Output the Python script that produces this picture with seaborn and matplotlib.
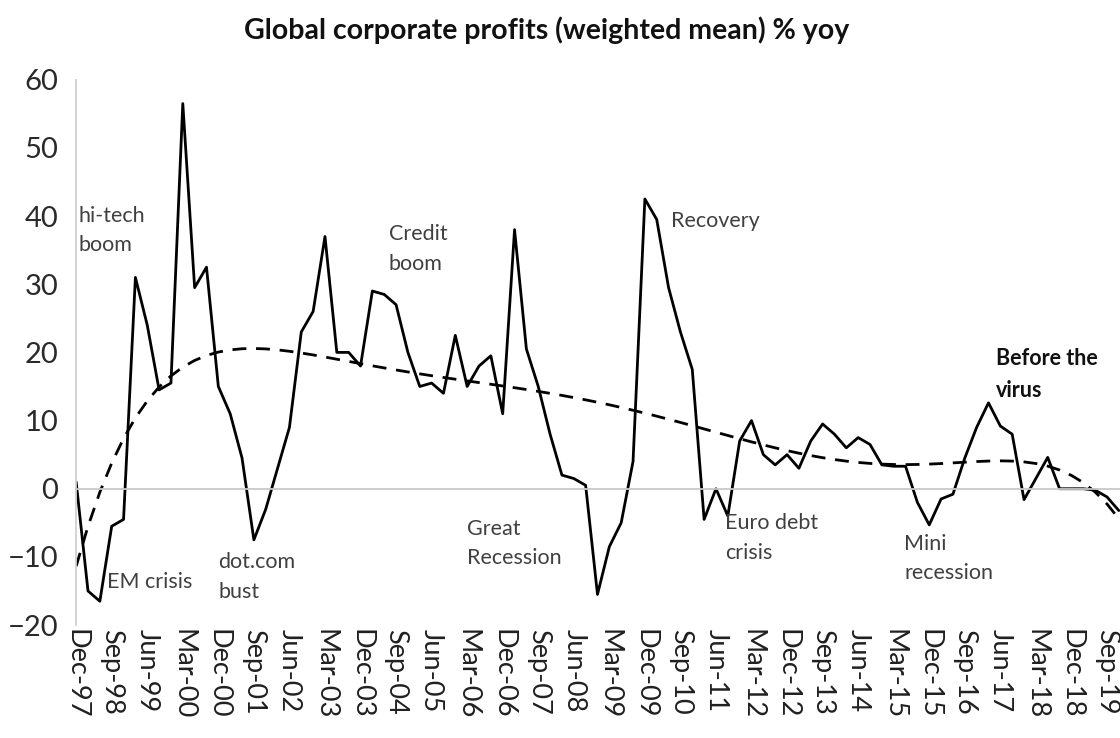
import numpy as np
import pandas as pd
import seaborn as sns
import matplotlib.pyplot as plt

# quarterly profit growth, % yoy, Dec-97 .. Dec-19
profits = [1, -15, -16.5, -5.5, -4.5, 31, 24, 14.5, 15.5, 56.5,
           29.5, 32.5, 15, 11, 4.5, -7.5, -3, 3, 9, 23,
           26, 37, 20, 20, 18, 29, 28.5, 27, 20, 15,
           15.5, 14, 22.5, 15, 18, 19.5, 11, 38, 20.5, 15,
           8, 2, 1.5, 0.5, -15.5, -8.5, -5, 4, 42.5, 39.5,
           29.5, 23, 17.5, -4.5, 0, -4, 7, 10, 5, 3.5,
           5, 3, 7, 9.5, 8, 6, 7.5, 6.5, 3.5, 3.3,
           3.3, -2, -5.3, -1.5, -0.8, 4.5, 9, 12.6, 9.2, 8,
           -1.6, 1.5, 4.6, 0, 0, 0, -0.2, -1.2, -3.2]

tick_labels = ['Dec-97', 'Sep-98', 'Jun-99', 'Mar-00', 'Dec-00', 'Sep-01',
               'Jun-02', 'Mar-03', 'Dec-03', 'Sep-04', 'Jun-05', 'Mar-06',
               'Dec-06', 'Sep-07', 'Jun-08', 'Mar-09', 'Dec-09', 'Sep-10',
               'Jun-11', 'Mar-12', 'Dec-12', 'Sep-13', 'Jun-14', 'Mar-15',
               'Dec-15', 'Sep-16', 'Jun-17', 'Mar-18', 'Dec-18', 'Sep-19']

# event notes: (text, x position in quarters, y, bold)
notes = [('hi-tech\nboom', 0.2, 41.5, False),
         ('EM crisis', 2.6, -12.2, False),
         ('dot.com\nbust', 12.0, -9.3, False),
         ('Credit\nboom', 26.4, 38.8, False),
         ('Great\nRecession', 33.0, -4.4, False),
         ('Recovery', 50.2, 40.8, False),
         ('Euro debt\ncrisis', 54.8, -3.6, False),
         ('Mini\nrecession', 69.9, -6.6, False),
         ('Before the\nvirus', 77.6, 20.6, True)]

df = pd.DataFrame({'q': np.arange(len(profits)), 'profits': profits})
# excel style polynomial trendline
coef = np.polyfit(df['q'] + 1, df['profits'], 6)
df['trend'] = np.polyval(coef, df['q'] + 1)

sns.set_style('white')
plt.rcParams['font.family'] = ['Lato', 'DejaVu Sans']

fig = plt.figure(figsize=(11.2, 7.38), dpi=100)
ax = fig.add_axes([0.068, 0.153, 0.932, 0.739])

sns.lineplot(data=df, x='q', y='profits', ax=ax, color='black', linewidth=2.0)
sns.lineplot(data=df, x='q', y='trend', ax=ax, color='black', linewidth=2.0,
             linestyle=(0, (5, 3.5)))

ax.set_xlim(0, 88.1)
ax.set_ylim(-20, 60)
ax.set_yticks(range(-20, 61, 10))
ax.set_xlabel('')
ax.set_ylabel('')

# category axis crosses at zero, labels sit low
ax.spines['bottom'].set_position(('data', 0))
ax.spines['bottom'].set_color('#c8c8c8')
ax.spines['bottom'].set_linewidth(1.3)
ax.spines['left'].set_color('#d0d0d0')
ax.spines['left'].set_linewidth(1.3)
ax.spines['top'].set_visible(False)
ax.spines['right'].set_visible(False)
ax.set_xticks(np.arange(0, 88, 3))
ax.set_xticklabels([])
ax.tick_params(axis='x', direction='out', length=5, color='#c8c8c8', width=1.3)
ax.tick_params(axis='y', direction='out', length=7, color='#d0d0d0', width=1.3,
               labelsize=21, labelcolor='#2a2a2a', pad=6)

sec = ax.secondary_xaxis('bottom')
sec.set_xticks(np.arange(0, 88, 3))
sec.set_xticklabels(tick_labels, rotation=-90, fontsize=19.5, color='#202020')
sec.tick_params(length=0, pad=3)
sec.spines['bottom'].set_visible(False)

for text, xq, yv, bold in notes:
    ax.text(xq, yv, text, fontsize=15.5, color='#111111' if bold else '#404040',
            fontweight='bold' if bold else 'normal', ha='left', va='top',
            linespacing=1.6)

fig.suptitle('Global corporate profits (weighted mean) % yoy', x=0.488, y=0.978,
             fontsize=20.5, fontweight='bold', color='#111111')

fig.savefig('out.png', dpi=100)
